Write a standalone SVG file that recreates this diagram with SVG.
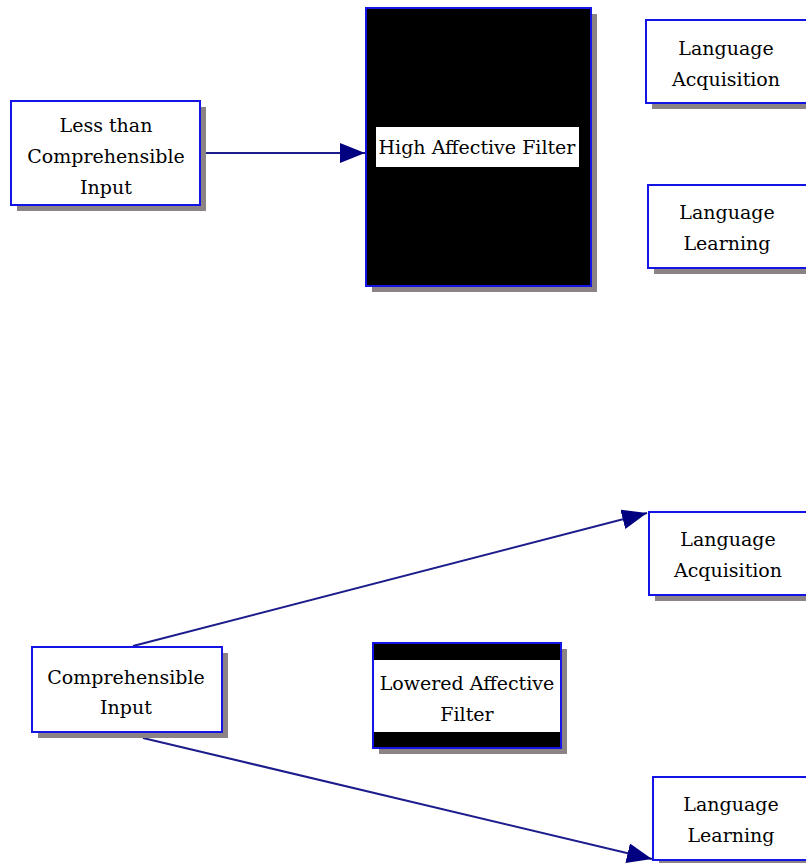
<svg xmlns="http://www.w3.org/2000/svg" width="806" height="863" viewBox="0 0 806 863">
<defs>
<style>
.shadow{fill:#8c8484}
.box{fill:#ffffff;stroke:#1414e6;stroke-width:2}
.dark{fill:#000000;stroke:#1414e6;stroke-width:2}
.band{fill:#000000}
.lbl{fill:#ffffff}
text{font-family:"DejaVu Serif","Liberation Serif",serif;font-size:19px;fill:#000000;text-anchor:middle}
.conn{stroke:#1c1c8c;stroke-width:2;fill:none;marker-end:url(#arrow)}
</style>
<marker id="arrow" markerUnits="userSpaceOnUse" markerWidth="26" markerHeight="22" refX="25" refY="10" orient="auto">
<path d="M0,0 L25,10 L0,20 z" fill="#000080"/>
</marker>
</defs>
<rect width="806" height="863" fill="#ffffff"/>

<g id="connectors">
<line class="conn" x1="201" y1="153" x2="365" y2="153"/>
<line class="conn" x1="133" y1="646" x2="647" y2="513"/>
<line class="conn" x1="143" y1="738" x2="652" y2="859"/>
</g>

<g id="less-than-input">
<rect class="shadow" x="17" y="107" width="189" height="104"/>
<rect class="box" x="11" y="101" width="189" height="104"/>
<text x="106" y="132">Less than</text>
<text x="106" y="163">Comprehensible</text>
<text x="106" y="194">Input</text>
</g>

<g id="high-affective-filter">
<rect class="shadow" x="372" y="14" width="225" height="278"/>
<rect class="dark" x="366" y="8" width="225" height="278"/>
<rect class="lbl" x="376" y="127" width="203" height="40"/>
<text x="477" y="154">High Affective Filter</text>
</g>

<g id="language-acquisition-top">
<rect class="shadow" x="652" y="26" width="170" height="83"/>
<rect class="box" x="646" y="20" width="170" height="83"/>
<text x="726" y="55">Language</text>
<text x="726" y="86">Acquisition</text>
</g>

<g id="language-learning-top">
<rect class="shadow" x="654" y="191" width="170" height="83"/>
<rect class="box" x="648" y="185" width="170" height="83"/>
<text x="727" y="219">Language</text>
<text x="727" y="250">Learning</text>
</g>

<g id="comprehensible-input">
<rect class="shadow" x="38" y="653" width="190" height="85"/>
<rect class="box" x="32" y="647" width="190" height="85"/>
<text x="126" y="684">Comprehensible</text>
<text x="126" y="714">Input</text>
</g>

<g id="lowered-affective-filter">
<rect class="shadow" x="379" y="649" width="188" height="105"/>
<rect class="box" x="373" y="643" width="188" height="105"/>
<rect class="band" x="374" y="644" width="186" height="16"/>
<rect class="band" x="374" y="732" width="186" height="15"/>
<text x="467" y="690">Lowered Affective</text>
<text x="467" y="721">Filter</text>
</g>

<g id="language-acquisition-bottom">
<rect class="shadow" x="655" y="518" width="170" height="83"/>
<rect class="box" x="649" y="512" width="170" height="83"/>
<text x="728" y="546">Language</text>
<text x="728" y="577">Acquisition</text>
</g>

<g id="language-learning-bottom">
<rect class="shadow" x="659" y="783" width="170" height="83"/>
<rect class="box" x="653" y="777" width="170" height="83"/>
<text x="731" y="811">Language</text>
<text x="731" y="842">Learning</text>
</g>
</svg>
